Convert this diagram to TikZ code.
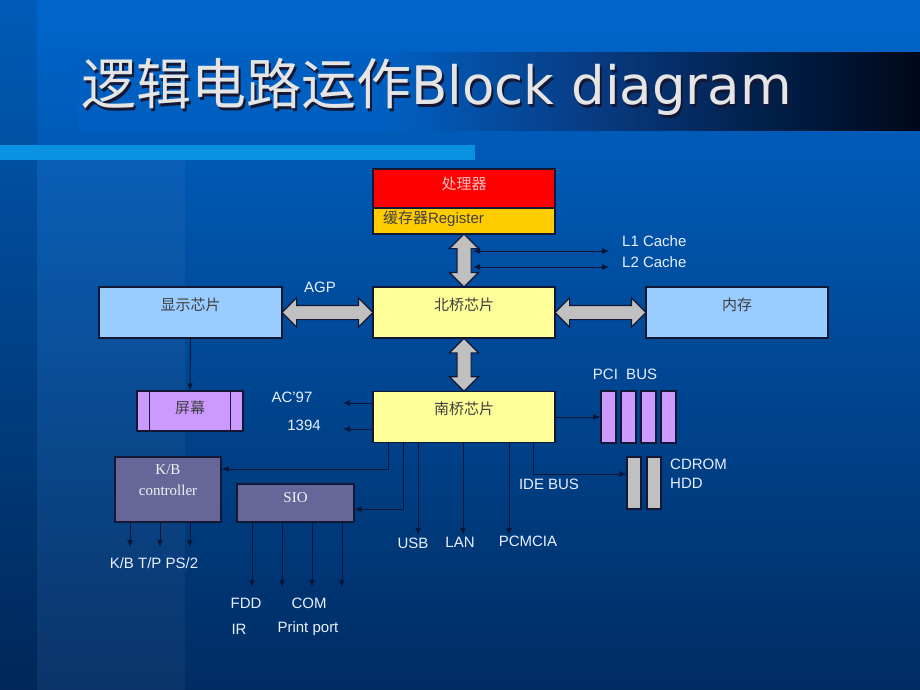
\documentclass[tikz,border=0pt]{standalone}
\usepackage{fontspec}
\setmainfont{Liberation Serif}
\setsansfont{Liberation Sans}
\newfontfamily\cjk{Noto Sans CJK SC}
\newfontfamily\ttlfont{DejaVu Sans}
\usetikzlibrary{arrows.meta,shapes.arrows,calc}
\definecolor{bgtop}{RGB}{0,102,204}
\definecolor{bgmid}{RGB}{0,78,164}
\definecolor{bgbot}{RGB}{0,44,98}
\definecolor{bandmid}{RGB}{8,58,128}
\definecolor{banddark}{RGB}{0,26,62}
\definecolor{bandend}{RGB}{0,8,26}
\definecolor{stripe}{RGB}{10,146,226}
\definecolor{edge}{RGB}{20,24,52}
\definecolor{wire}{RGB}{10,22,55}
\definecolor{cpu}{RGB}{255,0,0}
\definecolor{regc}{RGB}{255,204,0}
\definecolor{bridge}{RGB}{255,255,153}
\definecolor{skyc}{RGB}{153,204,255}
\definecolor{lilac}{RGB}{204,153,255}
\definecolor{slate}{RGB}{102,102,153}
\definecolor{silver}{RGB}{192,192,192}
\definecolor{lbltext}{RGB}{232,240,255}
\colorlet{bandstart}{bgtop!76!bgmid}
\pgfdeclarehorizontalshading{band}{100bp}{color(0bp)=(bandstart); color(43bp)=(bandstart);
  color(56bp)=(bandmid); color(68bp)=(banddark); color(75bp)=(bandend); color(100bp)=(bandend)}
\newcommand\titletext{{\cjk\fontsize{55}{60}\selectfont 逻辑电路运作}{\ttlfont\fontsize{53}{60}\selectfont Block diagram}}
\newcommand\shadowtitle{\makebox[0pt][l]{\hspace{2pt}\raisebox{-2pt}{\color{edge}\titletext}}\titletext}

\begin{document}
\begin{tikzpicture}[x=1pt, y=-1pt,
  box/.style={draw=edge, line width=1.3pt, minimum width=182pt, inner sep=0pt,
    font=\cjk\fontsize{15}{18}\selectfont, text=black!75},
  serifbox/.style={box, fill=slate, text=white!92!slate,
    font=\rmfamily\fontsize{15}{21}\selectfont},
  slot/.style={draw=edge, line width=1.1pt, minimum width=15pt, minimum height=52pt, inner sep=0pt},
  fat/.style={double arrow, draw=edge, line width=1.2pt, fill=silver, inner xsep=0pt,
    inner ysep=6.5pt, double arrow head extend=7.5pt, double arrow tip angle=90},
  wire/.style={draw=wire, line width=1pt, -{Latex[length=7pt,width=6pt]}},
  lbl/.style={font=\sffamily\fontsize{15}{18}\selectfont, text=lbltext, inner sep=0pt}]
\useasboundingbox (0,0) rectangle (920,690);
\shade[top color=bgtop, middle color=bgmid, bottom color=bgbot] (0,0) rectangle (920,690);
\fill[black, opacity=0.1] (0,0) rectangle (37,690);
\fill[white, opacity=0.04] (37,160) rectangle (185,690);
\shade[shading=band] (78,53) rectangle (920,130);
\fill[stripe] (0,145) rectangle (475,160);
\node[anchor=base west, text=black!10, inner sep=0pt] (ttl) at (81,105) {\shadowtitle};

\node[box, fill=cpu, text=cpu!25!white, minimum height=39pt, text height=20pt, text depth=19pt]
  (proc) at (464,188.5) {处理器};
\node[box, fill=regc, text width=162pt, inner xsep=10pt, align=left, text height=15pt, text depth=11pt]
  (reg) at (464,221) {缓存器{\sffamily Register}};
\node[box, fill=bridge, text height=23pt, text depth=28pt] (nb) at (464,312.5) {北桥芯片};
\node[box, fill=bridge, text height=23pt, text depth=28pt] (sb) at (464,417) {南桥芯片};
\node[box, fill=skyc, minimum width=183pt, text height=23pt, text depth=28pt] (disp) at (190.5,312.5) {显示芯片};
\node[box, fill=skyc, text height=23pt, text depth=28pt] (mem) at (737,312.5) {内存};
\node[box, fill=lilac, minimum width=106pt, text height=22pt, text depth=18pt] (scr) at (190,411) {屏幕};
\draw[draw=edge, line width=1.1pt] ([xshift=13pt]scr.north west) -- ([xshift=13pt]scr.south west)
  ([xshift=-13pt]scr.north east) -- ([xshift=-13pt]scr.south east);
\node[serifbox, minimum width=106pt, text width=106pt, align=center, text height=17pt, text depth=48pt]
  (kb) at (168,489.5) {K/B\\controller};
\node[serifbox, minimum width=117pt, text height=18pt, text depth=20pt] (sio) at (295.5,503) {SIO};
\foreach \i in {0,...,3}
  \node[slot, fill=lilac] (pci\i) at (608.5+20*\i,417) {};
\foreach \i in {0,1}
  \node[slot, fill=silver, minimum width=14pt] (cd\i) at (634+20*\i,483) {};

\node[fat, rotate=90, minimum height=53pt] (pn) at ($(reg.south)!0.5!(nb.north)$) {};
\node[fat, rotate=90, minimum height=53pt] (ns) at ($(nb.south)!0.5!(sb.north)$) {};
\node[fat, minimum height=91pt] (agpbus) at ($(disp.east)!0.5!(nb.west)$) {};
\node[fat, minimum height=91pt] (membus) at ($(nb.east)!0.5!(mem.west)$) {};

\node[lbl] (agp) at (320,287) {AGP};
\node[lbl, anchor=west] (l1) at (622,241) {L1 Cache};
\node[lbl, anchor=west] (l2) at (622,262) {L2 Cache};
\node[lbl] (ac) at (292,397) {AC'97};
\node[lbl] (fw) at (304,425) {1394};
\node[lbl] (pcibus) at (625,374) {PCI~~BUS};
\node[lbl, anchor=west] (cdrom) at (670,464) {CDROM};
\node[lbl, anchor=west] (hdd) at (670,483) {HDD};
\node[lbl] (ide) at (549,484) {IDE BUS};
\node[lbl] (usb) at (413,543) {USB};
\node[lbl] (lan) at (460,542) {LAN};
\node[lbl] (pcmcia) at (528,541) {PCMCIA};
\node[lbl] (kbports) at (154,563) {K/B T/P PS/2};
\node[lbl] (fdd) at (246,603) {FDD};
\node[lbl] (com) at (309,603) {COM};
\node[lbl] (ir) at (239,629) {IR};
\node[lbl] (prt) at (308,629) {Print port};

\coordinate (l1a) at (473,251);
\coordinate (l1b) at (609,251);
\coordinate (l2a) at (473,267);
\coordinate (l2b) at (609,267);
\draw[wire, {Latex[length=7pt,width=6pt]}-{Latex[length=7pt,width=6pt]}] (l1a) -- (l1b);
\draw[wire, {Latex[length=7pt,width=6pt]}-{Latex[length=7pt,width=6pt]}] (l2a) -- (l2b);
\draw[wire] (disp.south) -- (scr.north);
\coordinate (acend) at (343,403);
\coordinate (fwend) at (343,429);
\draw[wire] (sb.west |- acend) -- (acend);
\draw[wire] (sb.west |- fwend) -- (fwend);
\draw[wire] (sb.east) -- (pci0.west);
\coordinate (idetap) at (533,474);
\draw[wire] (sb.south -| idetap) -- (idetap) -- (cd0.west |- idetap);
\coordinate (kbtap) at (388,469);
\draw[wire] (sb.south -| kbtap) -- (kbtap) -- (kb.east |- kbtap);
\coordinate (siotap) at (403,509);
\draw[wire] (sb.south -| siotap) -- (siotap) -- (sio.east |- siotap);
\foreach \x in {418,463,509} {
  \coordinate (b\x) at (\x,535);
  \draw[wire] (sb.south -| b\x) -- (b\x);
}
\foreach \x in {130,160,190} {
  \coordinate (k\x) at (\x,547);
  \draw[wire] (kb.south -| k\x) -- (k\x);
}
\foreach \x in {252,282,312,342} {
  \coordinate (s\x) at (\x,587);
  \draw[wire] (sio.south -| s\x) -- (s\x);
}
\end{tikzpicture}
\end{document}
